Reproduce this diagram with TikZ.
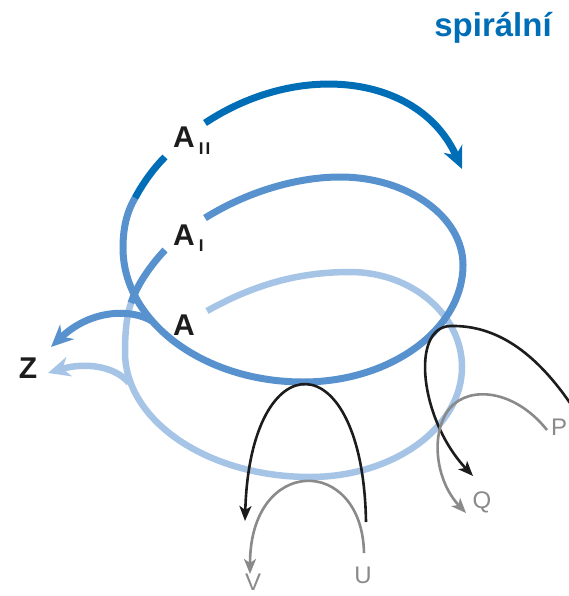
\documentclass[tikz,border=0pt]{standalone}
\usepackage{fontspec}
\setmainfont{Liberation Sans}
\usetikzlibrary{arrows.meta}
\definecolor{spiralDark}{RGB}{0,110,182}
\definecolor{spiralMid}{RGB}{88,146,206}
\definecolor{spiralLight}{RGB}{166,196,230}
\definecolor{pathBlack}{RGB}{28,28,28}
\definecolor{pathGrey}{RGB}{138,138,138}
\newcommand{\lowidx}[1]{\hspace{4pt}\raisebox{-6pt}{\fontsize{17}{17}\selectfont\addfontfeature{LetterSpace=12}#1}}
\begin{document}
\begin{tikzpicture}[x=1pt,y=-1pt,
    every node/.style={inner sep=0pt},
    big/.style={font=\fontsize{30}{30}\selectfont\bfseries,text=pathBlack},
    small/.style={font=\fontsize{24}{24}\selectfont,text=pathGrey},
    band/.style={line width=7pt},
    fine/.style={line width=2.6pt},
    bigtip/.style={-{Stealth[length=22pt,width=20pt,inset=7pt]}},
    smalltip/.style={-{Stealth[length=15pt,width=12pt,inset=4pt]}}]
    \useasboundingbox (0,0) rectangle (569,596);
    \node[big,font=\fontsize{33}{33}\selectfont\bfseries,text=spiralDark,
        anchor=base] (title) at (493,37) {spirální};
    \draw[band,line width=6.5pt,spiralLight] (207,311)
        .. controls (255,284) and (300,272) .. (350,272)
        .. controls (412,272) and (462,315) .. (462,367)
        .. controls (462,427) and (394,477) .. (310,477)
        .. controls (208,477) and (125,421) .. (125,352)
        .. controls (125,330) and (127,315) .. (131,303);
    \draw[band,line width=6.5pt,spiralLight,bigtip] (129,383)
        .. controls (115,366) and (85,362) .. (48,373);
    \draw[band,spiralMid] (131,303)
        .. controls (137,285) and (150,266) .. (165,250);
    \draw[band,spiralMid] (205,218)
        .. controls (250,190) and (300,177) .. (340,177)
        .. controls (408,177) and (463,217) .. (463,265)
        .. controls (463,329) and (391,382) .. (303,382)
        .. controls (204,382) and (123,322) .. (123,248)
        .. controls (123,225) and (128,210) .. (135,198);
    \draw[band,spiralMid,bigtip] (152,321)
        .. controls (130,308) and (90,310) .. (51,347);
    \draw[band,spiralDark] (135,198)
        .. controls (142,185) and (152,170) .. (165,157);
    \draw[band,spiralDark,bigtip] (205,123)
        .. controls (300,60) and (420,75) .. (462,169);
    \draw[fine,pathBlack,smalltip] (366,522)
        .. controls (363,340) and (250,340) .. (245,521);
    \draw[fine,pathGrey,smalltip] (364,553)
        .. controls (362,455) and (250,455) .. (250,574);
    \draw[fine,pathBlack,smalltip] (570,403)
        .. controls (530,345) and (490,325) .. (450,326)
        .. controls (410,328) and (420,420) .. (473,476);
    \draw[fine,pathGrey,smalltip] (547,430)
        .. controls (515,390) and (470,385) .. (450,408)
        .. controls (430,432) and (435,480) .. (466,513);
    \node[big,anchor=base west] (aII) at (173,148) {A\lowidx{II}};
    \node[big,anchor=base west] (aI) at (173,245) {A\lowidx{I}};
    \node[big,anchor=base west] (a) at (173,335) {A};
    \node[big,anchor=base] (z) at (28,378) {Z};
    \node[small,anchor=base] (u) at (363,583) {U};
    \node[small,anchor=base] (v) at (253,590) {V};
    \node[small,anchor=base] (q) at (482,508) {Q};
    \node[small,anchor=base west] (p) at (551,435) {P};
\end{tikzpicture}
\end{document}
